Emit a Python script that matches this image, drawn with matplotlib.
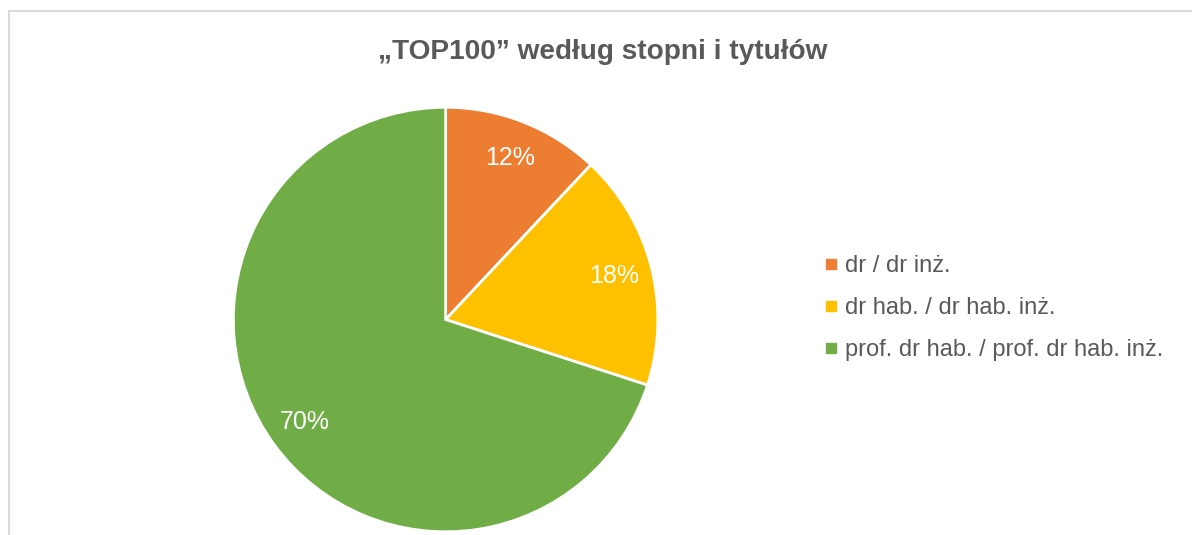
import matplotlib.pyplot as plt
from matplotlib.lines import Line2D

labels = ['dr / dr inż.', 'dr hab. / dr hab. inż.', 'prof. dr hab. / prof. dr hab. inż.']
shares = [12, 18, 70]
colors = ['#ED7D31', '#FFC000', '#70AD47']
title = '„TOP100” według stopni i tytułów'

plt.rcParams['font.family'] = ['Liberation Sans', 'DejaVu Sans']

fig = plt.figure(figsize=(11.92, 5.35), dpi=100)

# chart frame (only top and left edge visible in the crop)
fig.add_artist(Line2D([9 / 1192, 9 / 1192], [0, 1 - 11 / 535], color='#D9D9D9', lw=1.5))
fig.add_artist(Line2D([9 / 1192, 1], [1 - 11 / 535, 1 - 11 / 535], color='#D9D9D9', lw=1.5))

ax = fig.add_axes([0.194, 0.002, 0.3597, 0.8015])
wedges, texts, autotexts = ax.pie(
    shares, colors=colors, startangle=90, counterclock=False,
    autopct='%d%%', pctdistance=0.82,
    wedgeprops=dict(edgecolor='white', linewidth=2),
    textprops=dict(color='white', fontsize=18),
)
ax.set_xlim(-1.01, 1.01)
ax.set_ylim(-1.01, 1.01)
ax.set_aspect('equal')

fig.text(0.506, 1 - 52 / 535, title, ha='center', va='center',
         fontsize=20.2, fontweight='bold', color='#595959')

handles = [Line2D([], [], marker='s', linestyle='', markersize=7, color=c) for c in colors]
fig.legend(handles, labels, loc='center left', bbox_to_anchor=(0.6745, 1 - 308 / 535),
           frameon=False, fontsize=17, labelcolor='#595959', handlelength=0.5,
           handletextpad=0.35, labelspacing=0.85)

fig.savefig('out.png', dpi=100)
